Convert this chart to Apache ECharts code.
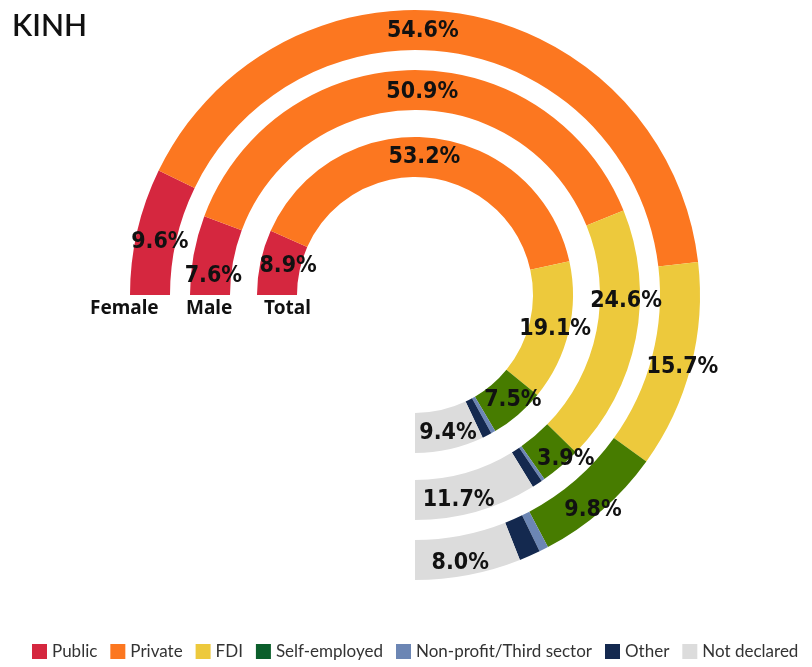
<!DOCTYPE html>
<html>
<head>
<meta charset="utf-8">
<script src="https://cdn.jsdelivr.net/npm/echarts@6/dist/echarts.min.js"></script>
<style>
    html, body { margin: 0; padding: 0; background: #fff; }
    #chart { width: 812px; height: 667px; }
</style>
</head>
<body>
<div id="chart"></div>
<script>
    // 数据
    var categories = ['Public', 'Private', 'FDI', 'Self-employed', 'Non-profit/Third sector', 'Other', 'Not declared'];
    var femaleValues = [9.6, 54.6, 15.7, 9.8, 0.7, 1.6, 8.0];
    var maleValues = [7.6, 50.9, 24.6, 3.9, 0.3, 1.0, 11.7];
    var totalValues = [8.9, 53.2, 19.1, 7.5, 0.6, 1.3, 9.4];
    var ringNames = ['Female', 'Male', 'Total'];
    var noLabel = ['Non-profit/Third sector', 'Other'];

    var colors = ['#d5273f', '#fc7720', '#edc93c', '#477c00', '#6c86b4', '#14294f', '#dcdcdc'];
    var legendColors = ['#d5273f', '#fc7720', '#edc93c', '#0b5e2b', '#6c86b4', '#14294f', '#dcdcdc'];

    // 标签微调（像原图一样手动挪过）
    var femaleOffsets = [[6, 7], [-37, 0], [8, 5], [2, 13], [0, 0], [0, 0], [-5, 5]];
    var maleOffsets = [[3, 18], [10, 5], [7, -34], [16, 6], [0, 0], [0, 0], [-13, 5]];
    var totalOffsets = [[11, 0], [-5, 2], [3, 1], [6, -2], [0, 0], [0, 0], [2, 0]];

    var chart = echarts.init(document.getElementById('chart'));

    function ring(name, values, offsets, radius) {
        return {
            name: name,
            type: 'pie',
            center: [415, 295],
            radius: radius,
            startAngle: 180,
            endAngle: -90,
            clockwise: true,
            avoidLabelOverlap: false,
            silent: true,
            emphasis: { disabled: true },
            labelLayout: { hideOverlap: false },
            label: {
                show: true,
                position: 'inside',
                color: '#111',
                fontSize: 23,
                fontWeight: 'bold',
                fontFamily: "'DejaVu Sans Condensed', sans-serif",
                formatter: function (p) {
                    if (noLabel.indexOf(p.name) >= 0) return '';
                    return p.value.toFixed(1) + '%';
                }
            },
            labelLine: { show: false },
            data: categories.map(function (c, i) {
                return {
                    name: c,
                    value: values[i],
                    itemStyle: { color: colors[i] },
                    label: { offset: offsets[i] }
                };
            })
        };
    }

    var option = {
        animation: false,
        title: {
            text: 'KINH',
            left: 7,
            top: 6,
            textStyle: { fontFamily: 'Lato', fontSize: 30, fontWeight: 600, color: '#111' }
        },
        legend: {
            bottom: 2,
            left: 27,
            icon: 'rect',
            itemWidth: 15,
            itemHeight: 15,
            itemGap: 13,
            selectedMode: false,
            textStyle: { fontFamily: 'Lato', fontSize: 17, color: '#333' },
            data: categories.map(function (c, i) {
                return { name: c, itemStyle: { color: legendColors[i] } };
            })
        },
        graphic: [
            { type: 'text', left: 90, top: 299, style: { text: ringNames[0], font: 'bold 19px "Noto Sans"', fill: '#111' } },
            { type: 'text', left: 186, top: 299, style: { text: ringNames[1], font: 'bold 19px "Noto Sans"', fill: '#111' } },
            { type: 'text', left: 264, top: 299, style: { text: ringNames[2], font: 'bold 19px "Noto Sans"', fill: '#111' } }
        ],
        series: [
            ring(ringNames[0], femaleValues, femaleOffsets, [245, 285]),
            ring(ringNames[1], maleValues, maleOffsets, [185, 225]),
            ring(ringNames[2], totalValues, totalOffsets, [118, 158])
        ]
    };

    chart.setOption(option);
</script>
</body>
</html>
